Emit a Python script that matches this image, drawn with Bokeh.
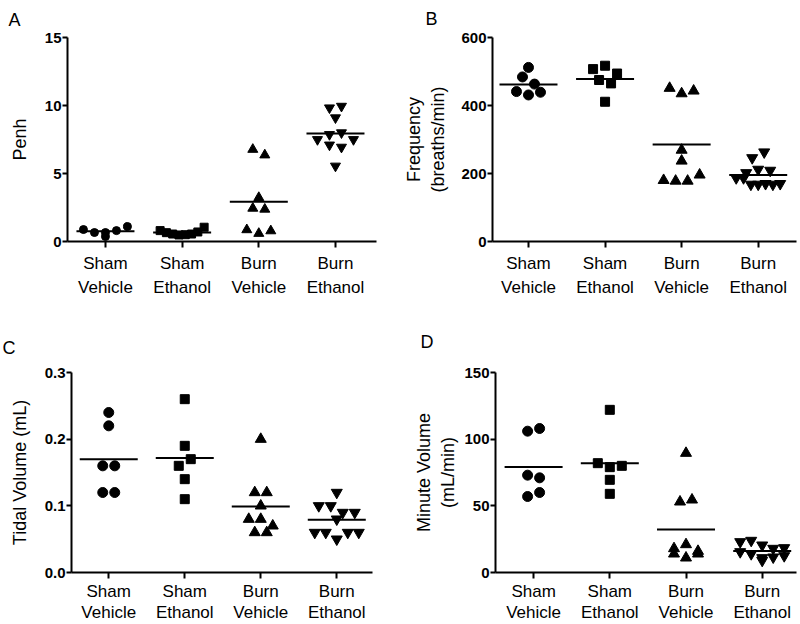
import numpy as np
from bokeh.plotting import figure
from bokeh.models import FixedTicker, Range1d, Title, PrintfTickFormatter
from bokeh.layouts import column, row
from bokeh.embed import file_html
from bokeh.resources import INLINE

# ---------------- data ----------------
groups = ["Sham\nVehicle", "Sham\nEthanol", "Burn\nVehicle", "Burn\nEthanol"]
group_markers = ["circle", "square", "triangle", "inverted_triangle"]

penh_sham_vehicle = [0.88, 0.66, 0.37, 0.66, 0.80, 1.10]
penh_sham_ethanol = [0.80, 0.65, 0.55, 0.48, 0.50, 0.55, 0.70, 1.05]
penh_burn_vehicle = [6.77, 6.36, 3.23, 2.44, 2.37, 0.86, 0.59, 0.78]
penh_burn_ethanol = [9.83, 9.95, 9.10, 7.50, 7.87, 8.00, 7.50, 7.10, 6.94, 5.55]
penh_ticks = [0, 5, 10, 15]

freq_sham_vehicle = [512, 484, 441, 431, 439, 463]
freq_sham_ethanol = [475, 507, 465, 517, 494, 411]
freq_burn_vehicle = [451, 435, 443, 269, 237, 180, 178, 178, 196]
freq_burn_ethanol = [246, 263, 202, 187, 212, 209, 187, 168, 168, 170, 168, 170]
freq_ticks = [0, 200, 400, 600]

tidal_sham_vehicle = [0.24, 0.22, 0.16, 0.16, 0.12, 0.12]
tidal_sham_ethanol = [0.26, 0.19, 0.16, 0.17, 0.14, 0.11]
tidal_burn_vehicle = [0.20, 0.12, 0.12, 0.10, 0.08, 0.08, 0.07, 0.06, 0.06]
tidal_burn_ethanol = [0.12, 0.10, 0.10, 0.09, 0.09, 0.08, 0.06, 0.06, 0.05, 0.06, 0.06]
tidal_ticks = [0.0, 0.1, 0.2, 0.3]

minute_sham_vehicle = [106, 108, 73, 71, 57, 60]
minute_sham_ethanol = [122, 82, 79, 80, 69.5, 59]
minute_burn_vehicle = [89.5, 53, 54.5, 18, 14, 21, 11, 14, 16]
minute_burn_ethanol = [23, 24, 20.5, 18, 18.5, 15.5, 14, 11, 9, 11.5, 12.5]
minute_ticks = [0, 50, 100, 150]

FONT = "Liberation Sans"


def swarm_offsets(values, px_per_y, px_per_x, row_px=8.0, step_px=12.0, max_span_px=44.0):
    vals = np.asarray(values, float)
    order = np.argsort(-vals, kind="stable")
    rows, cur, top = [], [], None
    for idx in order:
        if cur and (top - vals[idx]) * px_per_y <= row_px:
            cur.append(idx)
        else:
            if cur:
                rows.append(cur)
            cur, top = [idx], vals[idx]
    rows.append(cur)
    off = np.zeros(len(vals))
    for r in rows:
        r = sorted(r)
        n = len(r)
        step = min(step_px, max_span_px / (n - 1)) if n > 1 else 0.0
        for i, idx in enumerate(r):
            off[idx] = (i - (n - 1) / 2) * step / px_per_x
    return off


def make_panel(letter, series, ticks, ylabel, width, height, bl, br, bt, bb,
               xr, letter_off, letter_standoff, msize, lab_lh, lab_standoff,
               ylab_standoff, fmt=None):
    fw = width - bl - br
    fh = height - bt - bb
    p = figure(width=width, height=height, output_backend="svg", toolbar_location=None,
               x_range=Range1d(*xr), y_range=Range1d(ticks[0], ticks[-1]),
               min_border_left=bl, min_border_right=br, min_border_top=bt,
               min_border_bottom=bb)
    p.outline_line_color = None
    p.grid.visible = False
    p.background_fill_color = "white"
    px_x = fw / (xr[1] - xr[0])
    px_y = fh / (ticks[-1] - ticks[0])
    hw = 29.0 / px_x
    for i, (vals, mk) in enumerate(zip(series, group_markers)):
        off = swarm_offsets(vals, px_y, px_x)
        xs = i + off
        sz = msize[mk]
        p.scatter(xs, vals, marker=mk, size=sz, fill_color="black", line_color="black")
        m = float(np.mean(vals))
        p.segment(x0=[i - hw], x1=[i + hw], y0=[m], y1=[m], line_color="black", line_width=2)

    # axes
    p.xaxis.ticker = FixedTicker(ticks=list(range(len(groups))))
    p.xaxis.major_label_overrides = {i: g for i, g in enumerate(groups)}
    p.yaxis.ticker = FixedTicker(ticks=ticks)
    if fmt:
        p.yaxis.formatter = PrintfTickFormatter(format=fmt)
    for ax in (p.xaxis, p.yaxis):
        ax.axis_line_width = 2
        ax.axis_line_color = "black"
        ax.major_tick_line_width = 2
        ax.major_tick_line_color = "black"
        ax.major_tick_in = 0
        ax.minor_tick_line_color = None
        ax.major_label_text_color = "black"
        ax.major_label_text_font = FONT
    p.xaxis.major_tick_out = 6
    p.xaxis.major_label_standoff = lab_standoff
    p.xaxis.major_label_text_font_size = "17px"
    p.xaxis.major_label_text_line_height = lab_lh
    p.yaxis.major_tick_out = 5
    p.yaxis.major_label_standoff = 1
    p.yaxis.major_label_text_font_size = "15px"
    p.yaxis.major_label_text_font_style = "bold"
    p.yaxis.axis_label = ylabel
    p.yaxis.axis_label_text_font = FONT
    p.yaxis.axis_label_text_font_size = "18px"
    p.yaxis.axis_label_text_font_style = "normal"
    p.yaxis.axis_label_text_color = "black"
    p.yaxis.axis_label_standoff = ylab_standoff

    p.title.visible = False
    p.add_layout(Title(text=letter, align="left", offset=letter_off, standoff=letter_standoff,
                       text_font=FONT, text_font_size="18px", text_font_style="normal",
                       text_color="black", vertical_align="top"), "above")
    return p


ms_small = {"circle": 8, "square": 8, "triangle": 10, "inverted_triangle": 10}
ms = {"circle": 10, "square": 9, "triangle": 11, "inverted_triangle": 11}

pA = make_panel("A", [penh_sham_vehicle, penh_sham_ethanol, penh_burn_vehicle, penh_burn_ethanol],
                penh_ticks, "Penh", 400, 310, 67, 24, 36, 69, (-0.495, 3.535),
                -59, 12, ms_small, 1.3, 6, 12)
pB = make_panel("B", [freq_sham_vehicle, freq_sham_ethanol, freq_burn_vehicle, freq_burn_ethanol],
                freq_ticks, "Frequency\n(breaths/min)", 400, 310, 92, 4, 37, 69, (-0.47, 3.50),
                -67, 13, ms, 1.3, 6, 10)
pC = make_panel("C", [tidal_sham_vehicle, tidal_sham_ethanol, tidal_burn_vehicle, tidal_burn_ethanol],
                tidal_ticks, "Tidal Volume (mL)", 400, 314, 71, 28, 62, 52, (-0.49, 3.47),
                -69, 26, ms, 1.12, 3, 12, fmt="%.1f")
pD = make_panel("D", [minute_sham_vehicle, minute_sham_ethanol, minute_burn_vehicle, minute_burn_ethanol],
                minute_ticks, "Minute Volume\n(mL/min)", 400, 314, 95, 4, 62, 52, (-0.50, 3.45),
                -75, 38, ms, 1.12, 3, 3)

layout = column(row(pA, pB), row(pC, pD))
open("out.html", "w").write(file_html(layout, INLINE))
